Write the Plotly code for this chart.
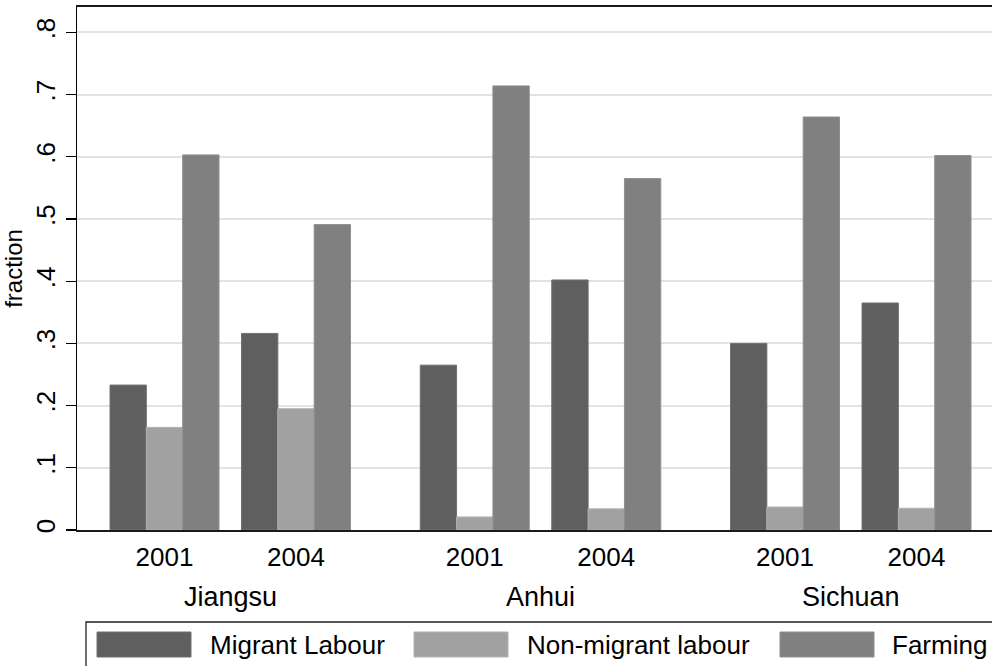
import plotly.graph_objects as go

# ---- data ----
states = ["Jiangsu", "Anhui", "Sichuan"]
years = ["2001", "2004"]
series_names = ["Migrant Labour", "Non-migrant labour", "Farming"]
migrant = [0.233, 0.316, 0.265, 0.402, 0.300, 0.365]
non_migrant = [0.165, 0.195, 0.021, 0.034, 0.037, 0.035]
farming = [0.603, 0.491, 0.714, 0.565, 0.664, 0.602]
y_ticks = [0, 0.1, 0.2, 0.3, 0.4, 0.5, 0.6, 0.7, 0.8]
y_tick_text = ["0", ".1", ".2", ".3", ".4", ".5", ".6", ".7", ".8"]

# ---- layout constants (in bar-width units) ----
YEAR_GAP = 0.62
STATE_GAP = 1.92
NB = 3
colors = ["#5f5f5f", "#a1a1a1", "#808080"]
edge = ["#707070", "#b3b3b3", "#8f8f8f"]

W, H = 992, 666
ML, MR, MT, MB = 77, 0, 7, 136
PW = W - ML - MR
PH = H - MT - MB
UNIT_PX = 36.33
x_lo = -(18.17 + 33) / UNIT_PX
x_hi = x_lo + PW / UNIT_PX

group_centers = []
for si in range(len(states)):
    for yi in range(len(years)):
        start = si * (2 * NB + YEAR_GAP + STATE_GAP) + yi * (NB + YEAR_GAP)
        group_centers.append(start + 1)

fig = go.Figure()
for k, (name, vals) in enumerate(zip(series_names, [migrant, non_migrant, farming])):
    fig.add_trace(go.Bar(
        x=[c + (k - 1) for c in group_centers], y=vals, width=1.0, name=name,
        marker=dict(color=colors[k], line=dict(color=edge[k], width=1)),
        showlegend=False, hoverinfo="skip",
    ))

def px_x(p):
    return (p - ML) / PW

def px_y(p):
    return (H - MB - p) / PH

FONT = "Liberation Sans, Arial, sans-serif"
FS = 26
annotations = []
shapes = []
# state labels
for si, st in enumerate(states):
    cx = (group_centers[2 * si] + group_centers[2 * si + 1]) / 2
    annotations.append(dict(x=cx, y=px_y(597), xref="x", yref="paper", text=st,
                            showarrow=False, font=dict(size=27, color="black", family=FONT),
                            xanchor="center", yanchor="middle"))

# legend box
shapes.append(dict(type="rect", xref="paper", yref="paper",
                   x0=px_x(86), x1=px_x(1005), y0=px_y(622), y1=px_y(680),
                   line=dict(color="#222222", width=1.3), fillcolor="white", layer="above"))
sw_left = [97, 414, 780]
tx_left = [208, 525, 890]
for k, name in enumerate(series_names):
    shapes.append(dict(type="rect", xref="paper", yref="paper",
                       x0=px_x(sw_left[k]), x1=px_x(sw_left[k] + 94),
                       y0=px_y(657), y1=px_y(632),
                       line=dict(color=edge[k], width=1), fillcolor=colors[k], layer="above"))
    annotations.append(dict(x=px_x(tx_left[k]), y=px_y(645), xref="paper", yref="paper",
                            text=name, showarrow=False,
                            font=dict(size=26, color="black", family=FONT),
                            xanchor="left", yanchor="middle"))

fig.update_layout(
    width=W, height=H,
    margin=dict(l=ML, r=MR, t=MT, b=MB),
    plot_bgcolor="white", paper_bgcolor="white",
    font=dict(family=FONT, color="black"),
    barmode="overlay",
    showlegend=False,
    annotations=annotations,
    shapes=shapes,
    xaxis=dict(range=[x_lo, x_hi], tickvals=group_centers, ticktext=years * len(states),
               showgrid=False, zeroline=False, showline=True, linecolor="#1a1a1a",
               linewidth=1.6, mirror=True, ticks="", tickfont=dict(size=FS, color="black"),
               ticklabelstandoff=3, fixedrange=True),
    yaxis=dict(range=[0, PH / 622.0], tickvals=y_ticks, ticktext=y_tick_text,
               tickangle=-90, ticks="outside", ticklen=10, tickcolor="black", tickwidth=1.3,
               showline=True, linecolor="black", linewidth=1.5, mirror=False,
               showgrid=True, gridcolor="#e3e3e3", gridwidth=2, zeroline=False,
               tickfont=dict(size=FS, color="black"), fixedrange=True,
               title=dict(text="fraction", font=dict(size=24, color="black"), standoff=4)),
)

fig.write_html("out.html", config={"displayModeBar": False, "staticPlot": True},
               post_script="document.body.style.margin='0px';")
